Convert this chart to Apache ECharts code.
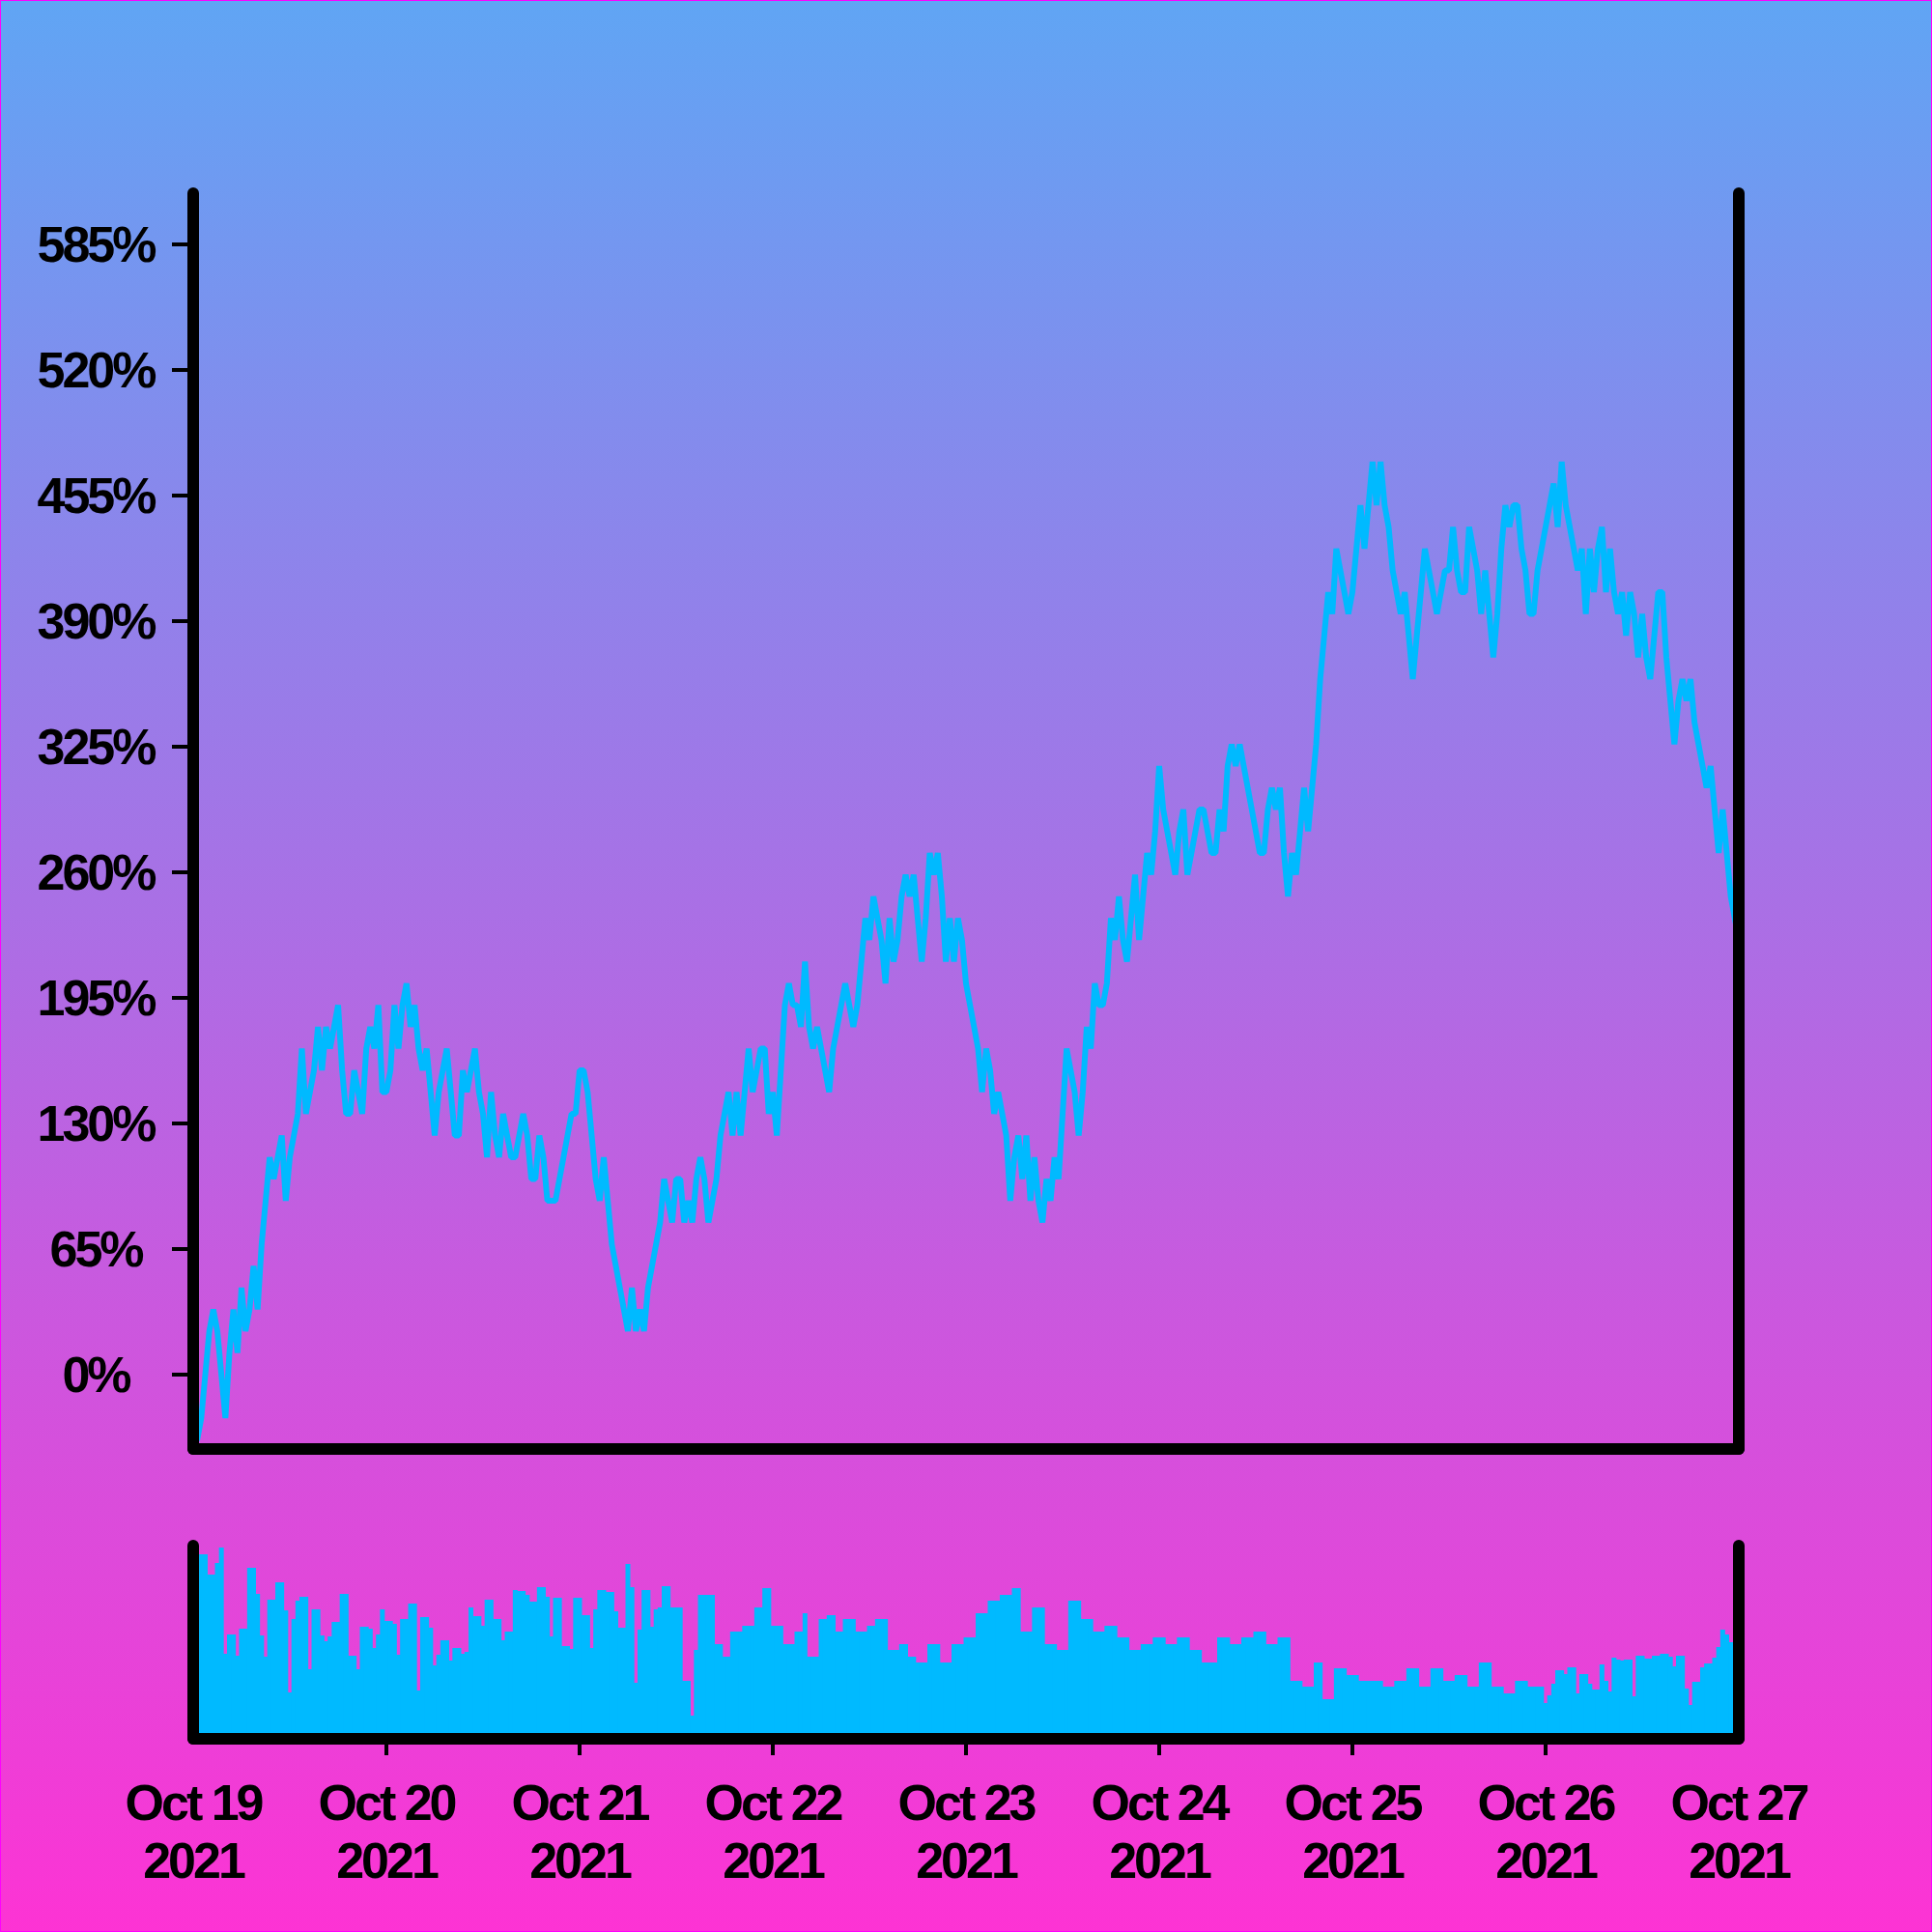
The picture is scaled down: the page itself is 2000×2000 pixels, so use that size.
<!DOCTYPE html>
<html>
<head>
<meta charset="utf-8">
<script src="https://cdn.jsdelivr.net/npm/echarts@6/dist/echarts.min.js"></script>
<style>
html,body{margin:0;padding:0;background:#fff;}
#chart{width:2000px;height:2000px;background:linear-gradient(to bottom,#60A5F4 0%,#FD33D4 100%);}
#chart svg text{letter-spacing:-3px;}
</style>
</head>
<body>
<div id="chart"></div>
<script>
// ---- data ----
const startTime = '2021-10-19T00:00:00Z';
const stepMinutes = 30;
const yTickValues = [0, 65, 130, 195, 260, 325, 390, 455, 520, 585];

const pctChange = [
-33.75,-33.75,-22.5,0,22.5,33.75,22.5,0,-22.5,11.25,
33.75,11.25,45,22.5,33.75,56.25,33.75,67.5,90,112.5,
101.25,112.5,123.75,90,112.5,123.75,135,168.75,135,146.25,
157.5,180,157.5,180,168.75,180,191.25,157.5,135,135,
157.5,146.25,135,168.75,180,168.75,191.25,146.25,146.25,157.5,
191.25,168.75,191.25,202.5,180,191.25,168.75,157.5,168.75,146.25,
123.75,146.25,157.5,168.75,146.25,123.75,123.75,157.5,146.25,157.5,
168.75,146.25,135,112.5,146.25,123.75,112.5,135,123.75,112.5,
112.5,123.75,135,123.75,101.25,101.25,123.75,112.5,90,90,
90,101.25,112.5,123.75,135,135,157.5,157.5,146.25,123.75,
101.25,90,112.5,90,67.5,56.25,45,33.75,22.5,45,
22.5,33.75,22.5,45,56.25,67.5,78.75,101.25,90,78.75,
101.25,101.25,78.75,90,78.75,101.25,112.5,101.25,78.75,90,
101.25,123.75,135,146.25,123.75,146.25,123.75,146.25,168.75,146.25,
157.5,168.75,168.75,135,146.25,123.75,157.5,191.25,202.5,191.25,
191.25,180,213.75,180,168.75,180,168.75,157.5,146.25,168.75,
180,191.25,202.5,191.25,180,191.25,213.75,236.25,225,247.5,
236.25,225,202.5,236.25,213.75,225,247.5,258.75,247.5,258.75,
236.25,213.75,236.25,270,258.75,270,247.5,213.75,236.25,213.75,
236.25,225,202.5,191.25,180,168.75,146.25,168.75,157.5,135,
146.25,135,123.75,90,112.5,123.75,101.25,123.75,90,112.5,
90,78.75,101.25,90,112.5,101.25,135,168.75,157.5,146.25,
123.75,146.25,180,168.75,202.5,191.25,191.25,202.5,236.25,225,
247.5,225,213.75,236.25,258.75,225,247.5,270,258.75,281.25,
315,292.5,281.25,270,258.75,281.25,292.5,258.75,270,281.25,
292.5,292.5,281.25,270,270,292.5,281.25,315,326.25,315,
326.25,315,303.75,292.5,281.25,270,270,292.5,303.75,292.5,
303.75,270,247.5,270,258.75,281.25,303.75,281.25,303.75,326.25,
360,382.5,405,393.75,427.5,416.25,405,393.75,405,427.5,
450,427.5,450,472.5,450,472.5,450,438.75,416.25,405,
393.75,405,382.5,360,382.5,405,427.5,416.25,405,393.75,
405,416.25,416.25,438.75,416.25,405,405,438.75,427.5,416.25,
393.75,416.25,393.75,371.25,393.75,427.5,450,438.75,450,450,
427.5,416.25,393.75,393.75,416.25,427.5,438.75,450,461.25,438.75,
472.5,450,438.75,427.5,416.25,427.5,393.75,427.5,405,427.5,
438.75,405,427.5,405,393.75,405,382.5,405,393.75,371.25,
393.75,371.25,360,382.5,405,405,371.25,348.75,326.25,348.75,
360,348.75,360,337.5,326.25,315,303.75,315,292.5,270,
292.5,270,247.5,236.25,225
];

const volume = [
150,144,191,191,170,170,182,198,88,108,
108,86,114,114,177,177,150,107,85,144,
144,162,162,133,48,124,143,147,147,72,
134,134,107,101,106,121,121,150,150,86,
86,72,116,116,114,94,108,134,122,122,
119,87,124,124,140,140,50,126,126,115,
76,87,102,102,81,94,94,88,90,136,
127,127,117,144,144,124,124,102,111,111,
154,153,153,149,142,142,157,157,147,106,
146,146,96,96,93,146,146,128,128,94,
134,154,154,152,152,132,115,115,181,157,
58,113,154,154,116,134,136,158,158,136,
136,136,60,60,24,92,149,149,149,149,
98,98,85,85,111,111,111,117,117,117,
136,136,156,156,117,117,117,98,98,98,
111,111,130,85,85,85,124,124,128,128,
111,111,124,124,124,111,111,111,117,117,
124,124,124,92,92,92,98,98,85,85,
79,79,79,98,98,98,79,79,79,98,
98,98,105,105,105,130,130,130,143,143,
143,149,149,149,156,156,111,111,111,136,
136,136,98,98,98,92,92,92,143,143,
143,124,124,124,111,111,111,117,117,117,
105,105,105,92,92,92,98,98,98,105,
105,105,98,98,98,105,105,105,92,92,
92,79,79,79,79,105,105,105,98,98,
98,105,105,105,111,111,111,98,98,98,
105,105,105,60,60,60,54,54,54,79,
79,41,41,41,73,73,73,66,66,66,
60,60,60,60,60,60,54,54,54,60,
60,60,73,73,73,54,54,54,73,73,
73,60,60,60,66,66,66,54,54,54,
79,79,79,54,54,54,47,47,47,60,
60,60,54,54,54,54,37,45,57,71,
71,67,74,74,47,67,67,57,51,51,
77,60,49,84,82,81,82,82,44,86,
86,83,83,86,86,88,88,85,75,86,
86,52,35,59,59,74,78,78,84,95,
113,108,100,100,100
];

// categories: half-hour timestamps
const categories = [];
const t0 = Date.parse(startTime);
for (let i = 0; i < pctChange.length; i++) {
  categories.push(new Date(t0 + i * stepMinutes * 60000).toISOString());
}
const MONTHS = ['Jan','Feb','Mar','Apr','May','Jun','Jul','Aug','Sep','Oct','Nov','Dec'];
function dateLabel(v) {
  const d = new Date(v);
  return MONTHS[d.getUTCMonth()] + ' ' + d.getUTCDate() + '\n' + d.getUTCFullYear();
}

const lineColor = '#00BAFF';
const axisLineStyle = { color: '#000', width: 12, cap: 'round' };
const labelFont = { fontFamily: 'Liberation Sans, Arial, sans-serif', fontWeight: 'bold', fontSize: 52, color: '#000' };

const chart = echarts.init(document.getElementById('chart'), null, { renderer: 'svg' });
chart.setOption({
  animation: false,
  backgroundColor: 'transparent',
  graphic: [{
    type: 'rect', z: 100, silent: true,
    shape: { x: 0.5, y: 0.5, width: 1999, height: 1999 },
    style: { fill: null, stroke: '#FF00FF', lineWidth: 1 }
  }],
  grid: [
    { left: 200, right: 200, top: 200, height: 1300 },
    { left: 200, right: 200, top: 1600, height: 200 }
  ],
  xAxis: [
    { gridIndex: 0, type: 'category', data: categories, boundaryGap: false, z: 10,
      axisLine: { show: true, onZero: false, lineStyle: axisLineStyle },
      axisTick: { show: false }, axisLabel: { show: false }, splitLine: { show: false } },
    { gridIndex: 1, type: 'category', data: categories, boundaryGap: false, z: 10,
      axisLine: { show: true, onZero: false, lineStyle: axisLineStyle },
      axisTick: { show: true, length: 17, lineStyle: { color: '#000', width: 4 },
        interval: function (idx) { return idx % 48 === 0 && idx > 0 && idx < categories.length - 1; } },
      axisLabel: Object.assign({ interval: 47, margin: 36, lineHeight: 60, align: 'center',
        formatter: dateLabel }, labelFont),
      splitLine: { show: false } }
  ],
  yAxis: [
    { gridIndex: 0, type: 'value', position: 'left', min: -38.5, max: 611.5, z: 10,
      axisLine: { show: true, onZero: false, lineStyle: axisLineStyle },
      axisTick: { show: true, length: 22, lineStyle: { color: '#000', width: 4 }, customValues: yTickValues },
      axisLabel: Object.assign({ customValues: yTickValues, formatter: '{value}%', align: 'center', margin: 101,
        padding: [0, 0, 8, 0] }, labelFont),
      splitLine: { show: false } },
    { gridIndex: 0, type: 'value', position: 'right', min: -38.5, max: 611.5, z: 10,
      axisLine: { show: true, onZero: false, lineStyle: axisLineStyle },
      axisTick: { show: false }, axisLabel: { show: false }, splitLine: { show: false } },
    { gridIndex: 1, type: 'value', position: 'left', min: 0, max: 200, z: 10,
      axisLine: { show: true, onZero: false, lineStyle: axisLineStyle },
      axisTick: { show: false }, axisLabel: { show: false }, splitLine: { show: false } },
    { gridIndex: 1, type: 'value', position: 'right', min: 0, max: 200, z: 10,
      axisLine: { show: true, onZero: false, lineStyle: axisLineStyle },
      axisTick: { show: false }, axisLabel: { show: false }, splitLine: { show: false } }
  ],
  series: [
    { type: 'line', xAxisIndex: 0, yAxisIndex: 0, data: pctChange, showSymbol: false, symbol: 'none',
      lineStyle: { color: lineColor, width: 6, join: 'bevel' }, z: 2, clip: true },
    { type: 'bar', xAxisIndex: 1, yAxisIndex: 2, data: volume, barWidth: 5,
      itemStyle: { color: lineColor }, z: 2 }
  ]
});
</script>
</body>
</html>
